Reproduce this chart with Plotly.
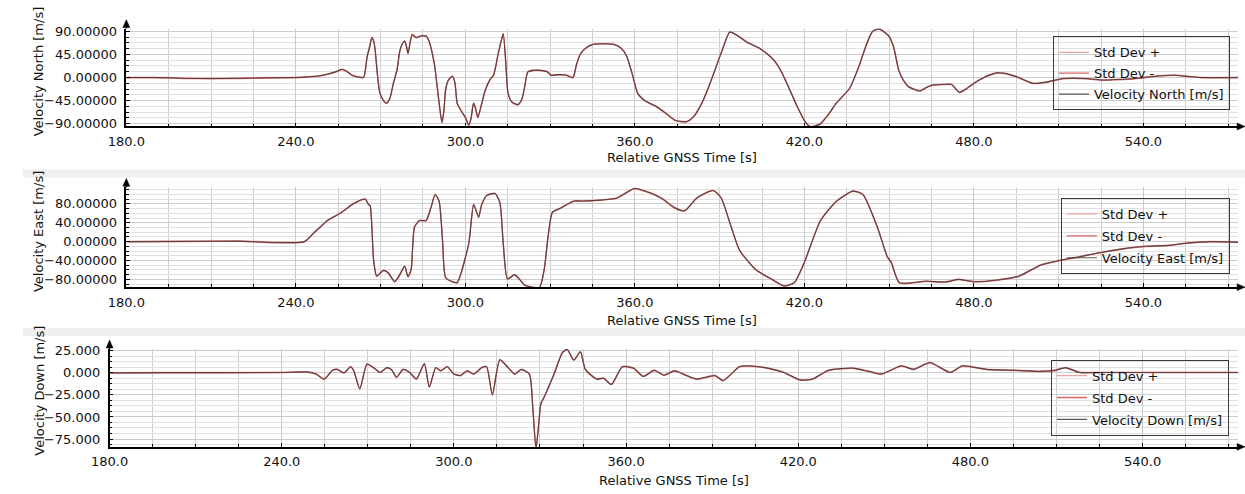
import plotly.graph_objects as go

W, H = 1245, 494

# ---------------- data ----------------
time_north = [180, 190, 195, 200, 210, 220, 230, 240, 243, 248, 252, 254.5, 256.4, 258, 259.9, 262, 264,
              265.2, 266.2, 266.9, 267.6, 268.1, 268.8, 269.6, 270.8, 272.1, 273.3, 274.5, 275.8, 276.8,
              277.7, 278.5, 279.1, 279.7, 280.5, 281.2, 282.6, 284, 286.1, 287.2, 289, 290.5, 291.7, 292.4,
              293, 294, 295.4, 296.3, 297.1, 298.5, 300, 301.2, 302, 302.9, 303.6, 304.4, 305.6, 307, 308.7,
              310, 311.6, 312.6, 313.4, 314.3, 315.1, 316.5, 318.6, 320, 321, 322.1, 324, 326.5, 329.1,
              330.2, 333, 335.5, 338.1, 339.3, 340.7, 342.5, 345.3, 349, 352.3, 355, 357, 359, 361, 363,
              365.1, 367.4, 371, 374.4, 378.4, 381, 383.7, 386, 388.3, 391, 393.6, 396, 400, 403.5, 406.9,
              409.5, 411.6, 414.5, 417.4, 420, 422, 425.5, 428.5, 431.3, 436, 439.4, 442, 444.1, 446.4,
              449.9, 451.6, 453.4, 455, 456.9, 460.9, 463, 465, 469, 472, 474.9, 477, 479, 483.5, 488.2,
              491, 495.2, 501, 505.7, 511.5, 519.6, 525.5, 530, 537, 545, 551, 556, 560.3, 573.5]
vel_north = [0, 0, -0.5, -1.5, -2, -1.5, -0.5, 0, 0.8, 3, 7.7, 12, 16, 12, 4.5, 1, 0.5,
             40, 62, 78, 70, 52, 10, -27, -43, -50, -40, -11.5, 15, 52,
             66, 71, 62, 47, 70, 84, 78, 81, 81, 70, 27, -40, -88, -65,
             -24, -5, 2.5, -10, -50, -65, -78, -93, -80, -50, -60, -78, -55, -25.5, -4,
             5, 46, 70, 85.5, 30, -30.6, -48, -53, -42, -18, 11, 14, 14, 11,
             4.5, 5.7, 5, 0, 25, 46, 57, 65, 66, 65, 58, 43, 8, -31, -43,
             -50, -56, -70, -84, -86, -75, -50, -20, 14, 55, 89, 83, 68, 59, 46,
             32, 14, -20, -56, -84, -96, -91, -72, -50, -21, 23.6, 65, 90, 95,
             81, 59, 14, -5, -18, -26, -20, -15, -13.5, -13.4, -29, -23, -15, 0, 9,
             8, 1.3, -11.5, -9, -2, -2, -5, -4, -2, 3, 4.5, 2, 0, 0]
std_north = 0.5

time_east = [180, 200, 220, 243, 246.6, 249, 251.2, 255.9, 260.5, 264.6, 265.7, 266.3, 267.5, 268.6, 271,
             272.7, 275, 276.8, 278.5, 279.7, 280.8, 282, 283.8, 286.1, 287.8, 289.3, 290.7, 291.9, 293,
             295.4, 297.1, 298.3, 301.2, 302.9, 304, 304.7, 305.8, 307.6, 310.5, 312.2, 313.4, 314.9,
             317.4, 319.2, 320.9, 326.2, 327.9, 330.8, 333.7, 338.4, 341.8, 347.6, 353.4, 356.9, 359.7,
             365.4, 369.7, 374, 377.6, 382, 387.7, 390.5, 394.1, 397, 402.7, 408.5, 412.8, 416.4, 419.9,
             425.7, 431.4, 437.2, 440.7, 445.8, 449.3, 450.8, 453.6, 463, 470.1, 474.5, 480.2, 488.8, 496,
             503.5, 510.3, 517.5, 524, 532, 540.4, 549, 554.8, 563.4, 573.5]
vel_east = [0, 0.5, 1, 0, 20, 33, 45, 61, 81, 90, 79, 76, -38, -73, -61,
            -66, -85, -70, -52, -74.5, -59, 31, 44.7, 44.7, 72, 100, 86, 3, -76,
            -85, -87, -70, -4, 79, 62, 52, 79, 98, 102, 83, -4, -79,
            -70, -80, -92, -97, -59, 62, 71, 86, 86, 88, 92, 103.5, 112.5,
            103.5, 91, 72, 65.5, 93, 108.4, 93, 31, -17.7, -59, -80, -94, -87, -45,
            44.7, 86, 107, 100, 31, -31.5, -45, -87, -84, -85.5, -80, -85, -81, -73,
            -50, -40, -32, -24, -16, -10, -8, -3.5, 0, -1]
std_east = 0.5

time_down = [180, 200, 220, 240, 249.1, 252, 254.8, 257.7, 259.4, 261.7, 264, 265.1, 267.2, 269.7, 272,
             274.3, 276.6, 278.3, 280, 282.3, 284.6, 286.9, 289.7, 291.4, 293.7, 295.4, 297.7, 300,
             302.3, 304.6, 306.9, 309.7, 311.4, 313.4, 316, 318.9, 321.2, 323.5, 326.3, 327.5, 328.6,
             329.5, 330.3, 331.5, 334.9, 337.8, 339.5, 341.8, 344.1, 345.8, 349.8, 352.1, 354.9, 358.7,
             362.6, 366, 369.8, 373.2, 376.9, 381.1, 384.7, 391, 393.8, 399.5, 402.3, 409.4, 415, 420.7,
             424.9, 430.6, 439, 444.7, 448.9, 456, 460.2, 465.9, 473, 477.2, 485.6, 495.5, 504, 509.6,
             513.2, 518.1, 523.8, 573.5]
vel_down = [0, 0.3, 0.3, 0.5, 1, -1.3, -7, 3, 4, 0, 7, 2.4, -18, 10, 6,
            0.5, 6, 3.5, -5, 4, 0.5, -7, 10.5, -16, 6, 2.4, 7, -1.3,
            -3, 2.4, -1.3, 6, 7, -25, 15, 6, -1.3, 4, -1.3, -40, -86,
            -60, -35, -27, -1.3, 23, 26.5, 14.6, 24, 4, -7, -6, -13, 7,
            5.4, -4, 3, -2.5, 2.4, -3, -7, -3, -8.7, 7, 8, 5.4, 0.5, -8,
            -7, 3, 5.4, 1.7, -1.3, 8, 4, 11.7, 0.5, 8, 4, 3, 1.7, 3,
            6, 0.5, 0.5, 0.5]
std_down = 0.3

x_tick_vals = [180, 240, 300, 360, 420, 480, 540]

# ---------------- layout helpers ----------------
FONT = "DejaVu Sans"


def fx(p):
    return p / W


def fy(p):
    return 1 - p / H


panels = [
    dict(t=time_north, v=vel_north, s=std_north, name="Velocity North [m/s]",
         left=109, right=1238, top=24, bottom=124, yr=[-95.7, 95.7], xr=[180, 573.5],
         dtick=45, fmt=".5f", ty=68, xty=156, leg=(1050, 32)),
    dict(t=time_east, v=vel_east, s=std_east, name="Velocity East [m/s]",
         left=109, right=1238, top=186, bottom=288, yr=[-96.6, 115.3], xr=[180, 573.5],
         dtick=40, fmt=".5f", ty=231, xty=322, leg=(1058, 197)),
    dict(t=time_down, v=vel_down, s=std_down, name="Velocity Down [m/s]",
         left=92, right=1238, top=351, bottom=451, yr=[-83.9, 27.2], xr=[180, 573.3],
         dtick=25, fmt=".3f", ty=394, xty=485, leg=(1048, 362)),
]

fig = go.Figure()
shapes = []
annotations = []
layout = {}

# light grey separator bands
for y0, y1 in [(168, 176), (330, 338)]:
    shapes.append(dict(type="rect", xref="paper", yref="paper", x0=fx(4), x1=1, y0=fy(y1), y1=fy(y0),
                       fillcolor="#efefef", line=dict(width=0), layer="below"))

for i, p in enumerate(panels, start=1):
    sfx = "" if i == 1 else str(i)
    xa, ya = "x" + sfx, "y" + sfx
    leg = "legend" + sfx
    plus = [v + p["s"] for v in p["v"]]
    minus = [v - p["s"] for v in p["v"]]
    fig.add_trace(go.Scatter(x=p["t"], y=plus, mode="lines", name="Std Dev +", xaxis=xa, yaxis=ya,
                             line=dict(color="#e8a3a3", width=1.3, shape="spline", smoothing=0.6),
                             legend=leg, legendgroup=f"a{i}"))
    fig.add_trace(go.Scatter(x=p["t"], y=minus, mode="lines", name="Std Dev -", xaxis=xa, yaxis=ya,
                             line=dict(color="#dc6466", width=1.3, shape="spline", smoothing=0.6),
                             legend=leg, legendgroup=f"b{i}"))
    fig.add_trace(go.Scatter(x=p["t"], y=p["v"], mode="lines", name=p["name"], xaxis=xa, yaxis=ya,
                             line=dict(color="rgba(70,58,58,0.85)", width=1.1, shape="spline",
                                       smoothing=0.6),
                             legend=leg, legendgroup=f"c{i}"))

    layout["xaxis" + sfx] = dict(
        domain=[fx(p["left"]), fx(p["right"])], range=p["xr"], anchor=ya,
        tickvals=x_tick_vals, tickformat=".1f",
        showgrid=True, gridcolor="#c9c9c9", gridwidth=1,
        minor=dict(dtick=15, tick0=180, showgrid=True, gridcolor="#cfcfcf", gridwidth=1,
                   ticks="inside", ticklen=3, tickcolor="#000"),
        ticks="inside", ticklen=4, tickcolor="#000",
        showline=True, linecolor="#000", linewidth=1.5, zeroline=False,
        tickfont=dict(family=FONT, size=13, color="#111"), ticklabelstandoff=2,
    )
    layout["yaxis" + sfx] = dict(
        domain=[fy(p["bottom"]), fy(p["top"])], range=p["yr"], anchor=xa,
        tick0=0, dtick=p["dtick"], tickformat=p["fmt"],
        showgrid=True, gridcolor="#cccccc", gridwidth=1,
        minor=dict(dtick=p["dtick"] / 4, showgrid=True, gridcolor="#e0e0e0", gridwidth=1,
                   ticks="inside", ticklen=3, tickcolor="#000"),
        ticks="inside", ticklen=4, tickcolor="#000",
        showline=True, linecolor="#000", linewidth=1.5, zeroline=False,
        tickfont=dict(family=FONT, size=13, color="#111"), ticklabelstandoff=5,
    )
    layout[leg] = dict(
        x=fx(p["leg"][0]), y=fy(p["leg"][1]), xanchor="left", yanchor="top",
        bgcolor="rgba(0,0,0,0)", bordercolor="#3a3a3a", borderwidth=1,
        font=dict(family=FONT, size=13, color="#111"), tracegroupgap=1 if i == 1 else 2,
        itemwidth=30,
    )

    # axis arrows (y up, x right)
    lx, tp = fx(p["left"]), p["top"]
    shapes.append(dict(type="line", xref="paper", yref="paper", x0=lx, x1=lx, y0=fy(tp), y1=fy(tp - 5),
                       line=dict(color="#000", width=1.5)))
    shapes.append(dict(type="path", xref="paper", yref="paper",
                       path=f"M {fx(p['left'] - 3.5)},{fy(tp - 1)} L {fx(p['left'])},{fy(tp - 9)} "
                            f"L {fx(p['left'] + 3.5)},{fy(tp - 1)} Z",
                       fillcolor="#000", line=dict(color="#000", width=0.5)))
    bt = p["bottom"]
    shapes.append(dict(type="path", xref="paper", yref="paper",
                       path=f"M {fx(1237)},{fy(bt - 3.5)} L {fx(1245)},{fy(bt)} L {fx(1237)},{fy(bt + 3.5)} Z",
                       fillcolor="#000", line=dict(color="#000", width=0.5)))

    # axis titles
    annotations.append(dict(text="Relative GNSS Time [s]", xref="paper", yref="paper",
                            x=fx((p["left"] + p["right"]) / 2), y=fy(p["xty"]), xanchor="center",
                            yanchor="middle", showarrow=False,
                            font=dict(family=FONT, size=13, color="#111")))
    annotations.append(dict(text=p["name"], xref="paper", yref="paper", x=fx(20), y=fy(p["ty"]),
                            xanchor="center", yanchor="middle", textangle=-90, showarrow=False,
                            font=dict(family=FONT, size=13, color="#111")))

fig.update_layout(
    width=W, height=H, margin=dict(l=0, r=0, t=0, b=0),
    paper_bgcolor="white", plot_bgcolor="white",
    shapes=shapes, annotations=annotations, **layout,
)

fig.write_html("out.html")
